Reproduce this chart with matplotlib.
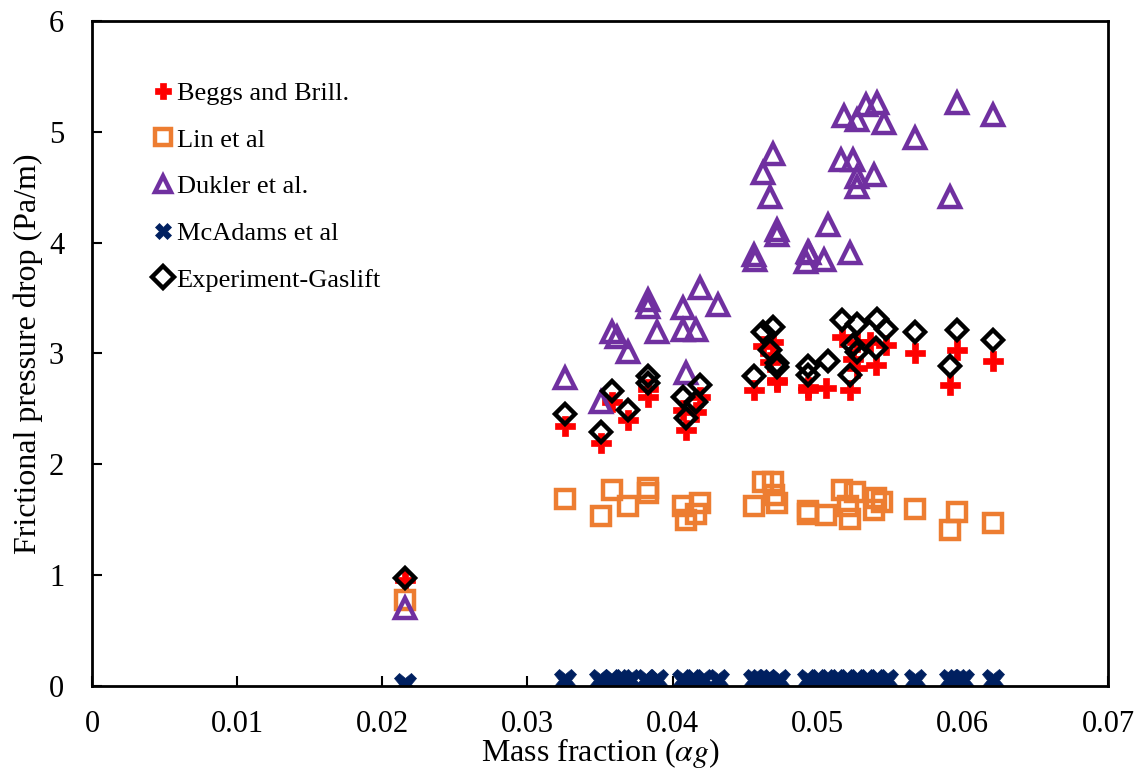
import numpy as np
import matplotlib.pyplot as plt

plt.rcParams['font.family'] = ['Liberation Serif', 'DejaVu Serif']
plt.rcParams['mathtext.fontset'] = 'stix'

# Experimental gas-lift data (mass fraction vs frictional pressure drop)
exp_x = [0.0216, 0.0326, 0.0351, 0.0358, 0.0369, 0.0383, 0.0383, 0.0407, 0.0409, 0.0416,
         0.0419, 0.0456, 0.0462, 0.0469, 0.0467, 0.0472, 0.0472, 0.0493, 0.0493, 0.0507,
         0.0517, 0.0527, 0.0524, 0.0527, 0.0522, 0.0540, 0.0541, 0.0547, 0.0567, 0.0596,
         0.0591, 0.0621]
exp_y = [0.97, 2.45, 2.29, 2.66, 2.49, 2.80, 2.73, 2.61, 2.42, 2.56,
         2.72, 2.80, 3.19, 3.24, 3.03, 2.91, 2.88, 2.89, 2.81, 2.93,
         3.30, 3.27, 3.08, 3.01, 2.81, 3.05, 3.31, 3.22, 3.19, 3.21,
         2.89, 3.12]

# Beggs and Brill correlation
bb_x = [0.0216, 0.0326, 0.0351, 0.0358, 0.0369, 0.0383, 0.0383, 0.0407, 0.0409, 0.0416,
        0.0419, 0.0456, 0.0462, 0.0469, 0.0467, 0.0472, 0.0472, 0.0493, 0.0493, 0.0506,
        0.0517, 0.0527, 0.0524, 0.0527, 0.0522, 0.0540, 0.0536, 0.0547, 0.0567, 0.0596,
        0.0591, 0.0621]
bb_y = [0.96, 2.35, 2.19, 2.56, 2.40, 2.68, 2.61, 2.49, 2.31, 2.47,
        2.61, 2.67, 3.07, 3.10, 2.92, 2.76, 2.74, 2.70, 2.67, 2.69,
        3.15, 3.10, 2.95, 2.87, 2.67, 2.90, 3.10, 3.08, 3.00, 3.03,
        2.72, 2.93]

# Lin et al correlation
lin_x = [0.0216, 0.0326, 0.0351, 0.0358, 0.0369, 0.0383, 0.0383, 0.0407, 0.0409, 0.0416,
         0.0419, 0.0456, 0.0462, 0.0469, 0.0470, 0.0472, 0.0493, 0.0493, 0.0506, 0.0517,
         0.0526, 0.0522, 0.0521, 0.0540, 0.0544, 0.0539, 0.0567, 0.0591, 0.0596, 0.0621]
lin_y = [0.78, 1.69, 1.53, 1.77, 1.62, 1.79, 1.74, 1.62, 1.50, 1.55,
         1.65, 1.62, 1.84, 1.84, 1.72, 1.65, 1.58, 1.55, 1.54, 1.77,
         1.75, 1.51, 1.62, 1.70, 1.66, 1.59, 1.60, 1.41, 1.57, 1.47]

# Dukler et al. correlation
duk_x = [0.0216, 0.0326, 0.0351, 0.0358, 0.0362, 0.0369, 0.0383, 0.0383, 0.0389, 0.0407,
         0.0407, 0.0409, 0.0416, 0.0419, 0.0431, 0.0456, 0.0457, 0.0462, 0.0469, 0.0467,
         0.0472, 0.0472, 0.0493, 0.0492, 0.0494, 0.0504, 0.0507, 0.0518, 0.0516, 0.0524,
         0.0522, 0.0527, 0.0527, 0.0527, 0.0533, 0.0539, 0.0541, 0.0546, 0.0567, 0.0591,
         0.0596, 0.0621]
duk_y = [0.70, 2.78, 2.56, 3.19, 3.15, 3.01, 3.48, 3.42, 3.19, 3.41,
         3.21, 2.82, 3.21, 3.59, 3.44, 3.89, 3.84, 4.63, 4.80, 4.41,
         4.11, 4.07, 3.92, 3.83, 3.91, 3.84, 4.16, 5.14, 4.75, 4.75,
         3.91, 5.11, 4.59, 4.50, 5.24, 4.61, 5.26, 5.08, 4.94, 4.41,
         5.26, 5.15]

# McAdams et al correlation
mca_x = [0.0216, 0.0326, 0.0350, 0.0358, 0.0365, 0.0371, 0.0382, 0.0389, 0.0407, 0.0414,
         0.0421, 0.0431, 0.0456, 0.0460, 0.0465, 0.0473, 0.0493, 0.0500, 0.0507, 0.0513,
         0.0520, 0.0527, 0.0534, 0.0541, 0.0548, 0.0567, 0.0591, 0.0596, 0.0600, 0.0621]
mca_y = [0.02, 0.05, 0.05, 0.05, 0.05, 0.05, 0.05, 0.05, 0.05, 0.05,
         0.05, 0.05, 0.05, 0.05, 0.05, 0.05, 0.05, 0.05, 0.05, 0.05,
         0.05, 0.05, 0.05, 0.05, 0.05, 0.05, 0.05, 0.05, 0.05, 0.05]

fig = plt.figure(figsize=(11.45, 7.72), dpi=100)
ax = fig.add_axes([0.0803, 0.1114, 0.8874, 0.8614])

ax.plot(bb_x, bb_y, linestyle='none', marker='P', ms=15, color='#FF0000',
        mec='#FF0000', mew=0.5, label='Beggs and Brill.')
ax.plot(lin_x, lin_y, linestyle='none', marker='s', ms=13.5, mfc='none',
        mec='#ED7D31', mew=3.2, label='Lin et al')
ax.plot(duk_x, duk_y, linestyle='none', marker='^', ms=14, mfc='none',
        mec='#7030A0', mew=3.2, label='Dukler et al.')
ax.plot(mca_x, mca_y, linestyle='none', marker='X', ms=16, color='#002060',
        mec='#002060', mew=0.5, label='McAdams et al')
ax.plot(exp_x, exp_y, linestyle='none', marker='D', ms=10.5, mfc='none',
        mec='black', mew=3.2, label='Experiment-Gaslift')

ax.set_xlim(0, 0.07)
ax.set_ylim(0, 6)
ax.set_xticks(np.arange(0, 0.071, 0.01))
ax.set_xticklabels(['0', '0.01', '0.02', '0.03', '0.04', '0.05', '0.06', '0.07'])
ax.set_yticks(range(0, 7))
ax.tick_params(direction='in', length=7, width=1.5, labelsize=22)
ax.tick_params(axis='x', pad=17)
ax.tick_params(axis='y', pad=20)
for s in ax.spines.values():
    s.set_linewidth(2)

ax.set_xlabel(r'Mass fraction ($\alpha g$)', fontsize=23, labelpad=-2)
ax.set_ylabel('Frictional pressure drop (Pa/m)', fontsize=23, labelpad=4)

leg = ax.legend(loc='upper left', bbox_to_anchor=(0.047, 0.925), frameon=False,
                fontsize=19, handletextpad=0.0, handlelength=1.0,
                labelspacing=0.88, borderaxespad=0)
for h in leg.legend_handles:
    h.set_markersize(11)

fig.savefig('out.png', dpi=100)
